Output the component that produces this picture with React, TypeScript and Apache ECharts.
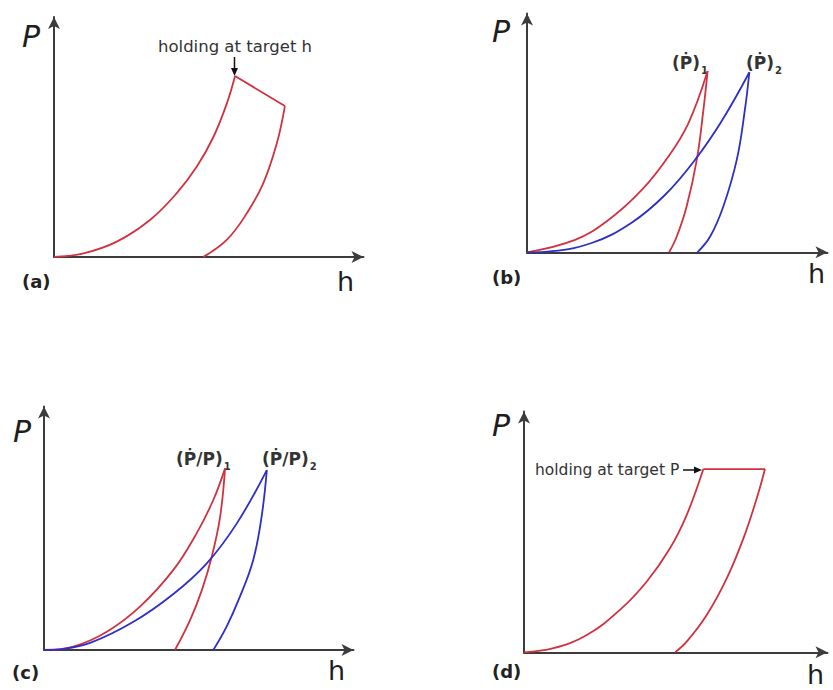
import { useEffect, useRef } from "react";
import * as echarts from "echarts";

type Pt = [number, number];

// (a) displacement-controlled: load, hold at target h, unload
const loadA: Pt[] = [[0, 0], [9.5, 1.5], [20.3, 6.4], [31.0, 15.4], [39.6, 26.5], [46.1, 37.6], [51.5, 50.0], [55.8, 63.8], [58.5, 75.4]];
const holdA: Pt[] = [[58.5, 75.4], [74.6, 62.9]];
const unloadA: Pt[] = [[48.2, 0], [55.8, 7.1], [62.3, 18.2], [67.6, 30.7], [72.0, 47.4], [74.6, 62.9]];

// (b) two constant loading rates
const loadB1: Pt[] = [[0, 0], [16.0, 5.2], [27.1, 13.5], [38.2, 26.1], [47.0, 40.0], [53.7, 54.0], [60.1, 75.9]];
const unloadB1: Pt[] = [[47.3, 0], [49.8, 6.5], [53.1, 19.1], [56.5, 38.7], [58.7, 59.6], [60.1, 75.9]];
const loadB2: Pt[] = [[0, 0], [6.0, 0.2], [21.5, 3.9], [34.8, 12.4], [45.9, 24.0], [55.9, 38.7], [64.9, 55.2], [74.0, 75.4]];
const unloadB2: Pt[] = [[56.7, 0], [60.9, 6.5], [65.3, 19.1], [69.8, 38.7], [72.5, 59.6], [74.0, 75.4]];

// (c) two constant loading-rate / load ratios
const loadC1: Pt[] = [[0, 0], [9.5, 1.4], [20.3, 7.5], [31.0, 17.8], [41.8, 32.9], [49.3, 47.9], [54.7, 61.6], [58.5, 74.6]];
const unloadC1: Pt[] = [[42.3, 0], [47.2, 12.3], [51.0, 24.6], [54.2, 38.3], [56.9, 54.7], [58.5, 74.6]];
const loadC2: Pt[] = [[0, 0], [6.0, 0.4], [14.9, 2.9], [28.9, 11.6], [41.8, 23.0], [52.6, 35.6], [62.3, 52.0], [72.0, 73.9]];
const unloadC2: Pt[] = [[54.7, 0], [59.0, 9.6], [63.3, 21.9], [67.6, 37.0], [70.3, 54.7], [72.0, 73.9]];

// (d) load-controlled: load, hold at target P, unload
const loadD: Pt[] = [[0, 0], [9.7, 1.7], [20.7, 7.2], [31.6, 17.6], [40.4, 29.3], [48.1, 43.2], [53.6, 57.0], [59.1, 76.1]];
const holdD: Pt[] = [[59.1, 76.1], [79.4, 76.1]];
const unloadD: Pt[] = [[49.8, 0], [53.6, 4.4], [60.2, 15.5], [66.8, 30.7], [72.3, 47.3], [76.7, 64.0], [79.4, 76.1]];

const panelLetters = ["(a)", "(b)", "(c)", "(d)"];
const holdLabels = ["holding at target h", "holding at target P"];
const rateLabels = ["(Ṗ)", "(Ṗ/P)"];
const rateSubs = ["1", "2"];

const RED = "#d03240";
const BLUE = "#2e2ec8";
const AXIS = "#3c3c3c";
const INK = "#2a2a2a";
const FONT = '"DejaVu Sans", Verdana, sans-serif';

const grids = [
  { left: 54, top: 17, width: 309.5, height: 240 },
  { left: 527, top: 13.5, width: 300.5, height: 238.8 },
  { left: 44, top: 406.5, width: 309.5, height: 243.5 },
  { left: 524, top: 411.5, width: 303.5, height: 240.8 },
];

function axis(gridIndex: number) {
  return {
    type: "value" as const,
    gridIndex,
    min: 0,
    max: 100,
    axisLine: {
      show: true,
      onZero: false,
      symbol: ["none", "arrow"],
      symbolSize: [9, 12],
      lineStyle: { color: AXIS, width: 2 },
    },
    axisTick: { show: false },
    axisLabel: { show: false },
    splitLine: { show: false },
  };
}

function curve(data: Pt[], color: string, panel: number, smooth: boolean) {
  return {
    type: "line" as const,
    xAxisIndex: panel,
    yAxisIndex: panel,
    data,
    showSymbol: false,
    silent: true,
    smooth: smooth ? 0.4 : false,
    lineStyle: { color, width: 1.8 },
  };
}

function txt(text: string, x: number, y: number, size: number, opts: Record<string, unknown> = {}) {
  return {
    type: "text" as const,
    x,
    y,
    silent: true,
    style: {
      text,
      fontFamily: FONT,
      fontSize: size,
      fill: INK,
      align: "left",
      verticalAlign: "middle",
      ...opts,
    },
  };
}

export default function App() {
  const ref = useRef<HTMLDivElement>(null);

  useEffect(() => {
    if (!ref.current) return;
    const chart = echarts.init(ref.current, undefined, { renderer: "svg" });

    const axisNames = [
      { P: [22, 36], h: [337, 281] },
      { P: [492, 31], h: [808, 273] },
      { P: [13, 431], h: [328, 670] },
      { P: [492, 425], h: [807, 674] },
    ];
    const letterPos = [[22, 281], [492, 277], [12, 672], [492, 671]];

    const graphic: any[] = [];
    axisNames.forEach((a) => {
      graphic.push(txt("P", a.P[0], a.P[1], 30, { fontStyle: "italic", fill: "#1e1e1e" }));
      graphic.push(txt("h", a.h[0], a.h[1], 27, { fill: "#1e1e1e" }));
    });
    panelLetters.forEach((l, i) => {
      graphic.push(txt(l, letterPos[i][0], letterPos[i][1], 18, { fontWeight: "bold", fill: "#222" }));
    });

    // (a) annotation with downward arrow onto the peak
    graphic.push(txt(holdLabels[0], 158, 46, 16.5, { fill: "#333" }));
    graphic.push({ type: "line", silent: true, shape: { x1: 234.5, y1: 57, x2: 234.5, y2: 70 }, style: { stroke: "#111", lineWidth: 1.5 } });
    graphic.push({ type: "polygon", silent: true, shape: { points: [[231, 68], [238, 68], [234.5, 76]] }, style: { fill: "#111" } });

    // (d) annotation with rightward arrow onto the plateau start
    graphic.push(txt(holdLabels[1], 535, 470, 15.5, { fill: "#333" }));
    graphic.push({ type: "line", silent: true, shape: { x1: 683, y1: 470, x2: 696, y2: 470 }, style: { stroke: "#111", lineWidth: 1.5 } });
    graphic.push({ type: "polygon", silent: true, shape: { points: [[694, 466.5], [694, 473.5], [702, 470]] }, style: { fill: "#111" } });

    // rate labels, each with a subscript that follows the main text
    const rateTags = [
      { t: rateLabels[0], s: rateSubs[0], x: 672, y: 63 },
      { t: rateLabels[0], s: rateSubs[1], x: 746, y: 63 },
      { t: rateLabels[1], s: rateSubs[0], x: 176, y: 459 },
      { t: rateLabels[1], s: rateSubs[1], x: 262, y: 459 },
    ];
    rateTags.forEach((r) => {
      graphic.push({
        type: "text",
        x: r.x,
        y: r.y,
        silent: true,
        style: {
          text: `{m|${r.t}}{s|${r.s}}`,
          align: "left",
          verticalAlign: "middle",
          rich: {
            m: { fontFamily: FONT, fontSize: 17, fontWeight: "bold", fill: "#333", lineHeight: 24 },
            s: { fontFamily: FONT, fontSize: 10, fontWeight: "bold", fill: "#333", verticalAlign: "bottom", lineHeight: 12, padding: [0, 0, 0, 1] },
          },
        },
      });
    });

    chart.setOption({
      animation: false,
      backgroundColor: "#ffffff",
      grid: grids.map((g) => ({ ...g, containLabel: false, outerBoundsMode: "none" })),
      xAxis: grids.map((_, i) => axis(i)),
      yAxis: grids.map((_, i) => axis(i)),
      series: [
        curve(loadA, RED, 0, true),
        curve(holdA, RED, 0, false),
        curve(unloadA, RED, 0, true),
        curve(loadB1, RED, 1, true),
        curve(unloadB1, RED, 1, true),
        curve(loadB2, BLUE, 1, true),
        curve(unloadB2, BLUE, 1, true),
        curve(loadC1, RED, 2, true),
        curve(unloadC1, RED, 2, true),
        curve(loadC2, BLUE, 2, true),
        curve(unloadC2, BLUE, 2, true),
        curve(loadD, RED, 3, true),
        curve(holdD, RED, 3, false),
        curve(unloadD, RED, 3, true),
      ],
      graphic,
    });

    return () => chart.dispose();
  }, []);

  return (
    <div
      ref={ref}
      style={{ position: "fixed", left: 0, top: 0, width: 833, height: 690, background: "#fff" }}
    />
  );
}
